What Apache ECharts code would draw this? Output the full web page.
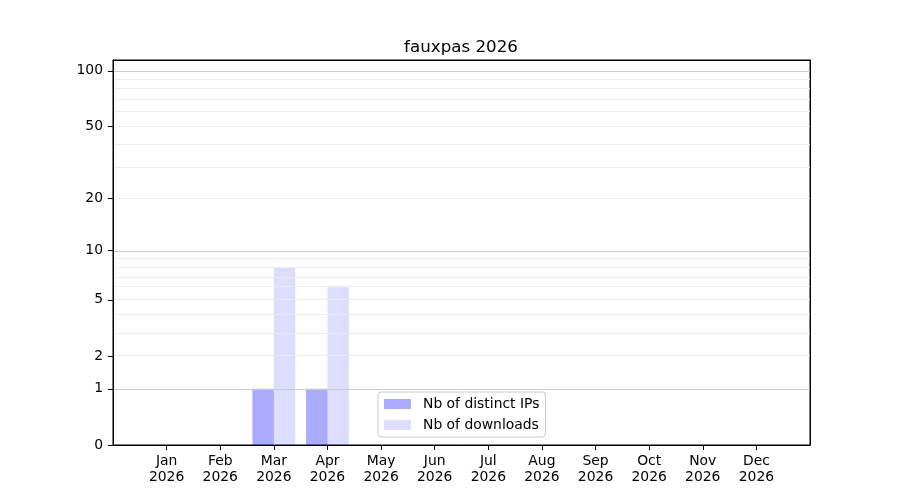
<!DOCTYPE html>
<html>
<head>
<meta charset="utf-8">
<title>fauxpas 2026</title>
<script src="https://cdn.jsdelivr.net/npm/echarts@6/dist/echarts.min.js"></script>
<style>
  html, body { margin: 0; padding: 0; background: #fff; }
  #chart { width: 900px; height: 500px; }
</style>
</head>
<body>
<div id="chart"></div>
<script>
// data
var year = 2026;
var months = ['Jan', 'Feb', 'Mar', 'Apr', 'May', 'Jun', 'Jul', 'Aug', 'Sep', 'Oct', 'Nov', 'Dec'];
var distinctIPs = [0, 0, 1, 1, 0, 0, 0, 0, 0, 0, 0, 0];
var downloads   = [0, 0, 8, 6, 0, 0, 0, 0, 0, 0, 0, 0];
var yTickLabels = [0, 1, 2, 5, 10, 20, 50, 100];
var majorGrid = [1, 10, 100];
var minorGrid = [2, 3, 4, 5, 6, 7, 8, 9, 20, 30, 40, 50, 60, 70, 80, 90];
var yTop = 114.5;

// y scale is log10(1 + v)
function f(v) { return Math.log10(1 + v); }

var font = 'DejaVu Sans';
var gridL = 113, gridR = 90, gridT = 60, gridB = 55;
var barW = (900 - gridL - gridR) / 13 * 0.4;

var labelOf = {};
yTickLabels.forEach(function (t) { labelOf[f(t).toFixed(6)] = String(t); });

function points(arr) {
  return arr.map(function (v, i) { return [i, f(v)]; });
}

var gridLines = majorGrid.map(function (v) {
  return { yAxis: f(v), lineStyle: { color: '#cccccc', width: 1, type: 'solid' } };
}).concat(minorGrid.map(function (v) {
  return { yAxis: f(v), lineStyle: { color: '#ececec', width: 1, type: 'solid' } };
}));

var chart = echarts.init(document.getElementById('chart'), null, { renderer: 'canvas' });
chart.setOption({
  animation: false,
  backgroundColor: '#fff',
  title: {
    text: 'fauxpas ' + year,
    left: 456,
    top: 34,
    textAlign: 'center',
    textStyle: { fontFamily: font, fontSize: 16.7, fontWeight: 'normal', color: '#000' }
  },
  legend: {
    orient: 'vertical',
    left: 378,
    top: 392,
    z: 10,
    padding: [5, 6, 5, 6],
    itemWidth: 27,
    itemHeight: 10,
    itemGap: 7,
    icon: 'rect',
    borderColor: '#cccccc',
    borderWidth: 1,
    borderRadius: 3,
    backgroundColor: 'rgba(255,255,255,0.8)',
    textStyle: { fontFamily: font, fontSize: 13.9, color: '#000', lineHeight: 14, padding: [0, 0, 0, 7] },
    data: ['Nb of distinct IPs', 'Nb of downloads']
  },
  grid: {
    left: gridL, right: gridR, top: gridT, bottom: gridB,
    show: true, borderColor: '#000', borderWidth: 1, containLabel: false
  },
  xAxis: [
    {
      type: 'value',
      min: -1,
      max: 12,
      z: 10,
      axisLine: { show: true, onZero: false, lineStyle: { color: '#000', width: 1 } },
      axisTick: { show: true, length: 5, customValues: months.map(function (m, i) { return i; }), lineStyle: { color: '#000' } },
      axisLabel: {
        customValues: months.map(function (m, i) { return i; }),
        formatter: function (v) { return months[Math.round(v)] + '\n' + year; },
        fontFamily: font, fontSize: 13.9, color: '#000', lineHeight: 16, margin: 8
      },
      splitLine: { show: false }
    },
    {
      // top frame edge
      type: 'value', position: 'top', min: -1, max: 12, z: 10,
      axisLine: { show: true, onZero: false, lineStyle: { color: '#000', width: 1 } },
      axisTick: { show: false }, axisLabel: { show: false }, splitLine: { show: false }
    }
  ],
  yAxis: [
    {
      type: 'value',
      min: 0,
      max: f(yTop),
      z: 10,
      axisLine: { show: true, onZero: false, lineStyle: { color: '#000', width: 1 } },
      axisTick: { show: true, length: 5, customValues: yTickLabels.map(f), lineStyle: { color: '#000' } },
      axisLabel: {
        customValues: yTickLabels.map(f),
        formatter: function (v) { return labelOf[v.toFixed(6)] || ''; },
        fontFamily: font, fontSize: 13.9, color: '#000', margin: 10
      },
      splitLine: { show: false }
    },
    {
      // right frame edge
      type: 'value', position: 'right', min: 0, max: f(yTop), z: 10,
      axisLine: { show: true, onZero: false, lineStyle: { color: '#000', width: 1 } },
      axisTick: { show: false }, axisLabel: { show: false }, splitLine: { show: false }
    }
  ],
  series: [
    {
      name: 'grid',
      type: 'line',
      data: [],
      z: 1,
      silent: true,
      markLine: {
        silent: true,
        symbol: 'none',
        label: { show: false },
        data: gridLines
      }
    },
    {
      name: 'Nb of distinct IPs',
      type: 'bar',
      z: 2,
      barWidth: barW,
      barGap: '0%',
      itemStyle: { color: 'rgba(0,0,255,0.33)' },
      data: points(distinctIPs)
    },
    {
      name: 'Nb of downloads',
      type: 'bar',
      z: 2,
      barWidth: barW,
      barGap: '0%',
      itemStyle: { color: 'rgba(0,0,255,0.133)' },
      data: points(downloads)
    }
  ]
});
</script>
</body>
</html>
